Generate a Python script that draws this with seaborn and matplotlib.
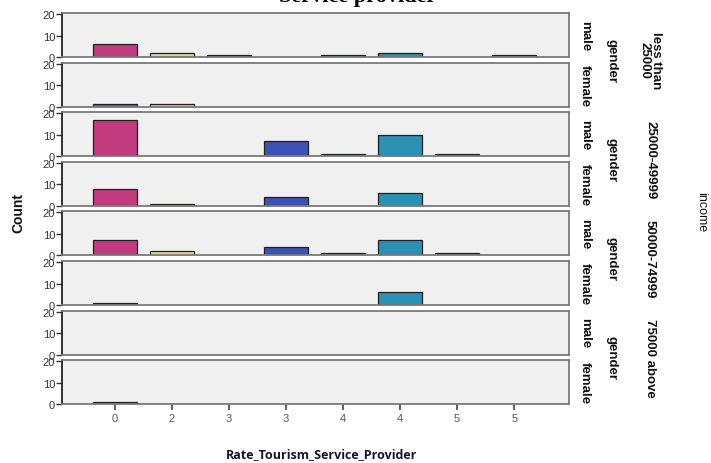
import pandas as pd
import numpy as np
import matplotlib
matplotlib.use("Agg")
import matplotlib.pyplot as plt
import seaborn as sns

sns.set_theme(style="white")
plt.rcParams['font.family'] = ['Liberation Sans', 'DejaVu Sans']

# categories on the x axis (the original labels repeat, so keep a unique key)
cat_keys = ["c0", "c1", "c2", "c3", "c4", "c5", "c6", "c7"]
cat_labels = ["0", "2", "3", "3", "4", "4", "5", "5"]
cat_colors = ["#C23B7E", "#DCD890", "#3C3C3C", "#3A52B4",
              "#2E8C7C", "#2A90B4", "#8C7C9C", "#A8A472"]

income_levels = ["less than\n25000", "25000-49999", "50000-74999", "75000 above"]
genders = ["male", "female"]

# counts per panel (income x gender), one value per category
less25_male = [6, 2, 1, 0, 1, 2, 0, 1]
less25_female = [1, 1, 0, 0, 0, 0, 0, 0]
mid25_male = [17, 0, 0, 7, 1, 10, 1, 0]
mid25_female = [8, 1, 0, 4, 0, 6, 0, 0]
mid50_male = [7, 2, 0, 4, 1, 7, 1, 0]
mid50_female = [1, 0, 0, 0, 0, 6, 0, 0]
above75_male = [0, 0, 0, 0, 0, 0, 0, 0]
above75_female = [1, 0, 0, 0, 0, 0, 0, 0]

panels = [less25_male, less25_female, mid25_male, mid25_female,
          mid50_male, mid50_female, above75_male, above75_female]

rows = []
for i, counts in enumerate(panels):
    for k, c in zip(cat_keys, counts):
        if c > 0:
            rows.append({"panel": i, "cat": k, "count": c})
df = pd.DataFrame(rows)

W, H = 711, 464
fig = plt.figure(figsize=(W / 100, H / 100), dpi=100)

left, right = 62, 569
row_tops = [14 + i * 49.6 for i in range(8)]
row_h = 44
palette = dict(zip(cat_keys, cat_colors))

axes = []
for i in range(8):
    top = row_tops[i]
    ax = fig.add_axes([left / W, 1 - (top + row_h) / H, (right - left) / W, row_h / H])
    sub = df[df["panel"] == i]
    if len(sub):
        sns.barplot(data=sub, x="cat", y="count", hue="cat", order=cat_keys,
                    hue_order=cat_keys, palette=palette, legend=False,
                    width=0.77, edgecolor="#202020", linewidth=0.9,
                    saturation=1, ax=ax)
    ax.set_xlim(-0.92, 7.96)
    ax.set_ylim(0, 20.5)
    ax.set_facecolor("#F0F0F0")
    ax.set_yticks([0, 10, 20])
    ax.set_yticklabels(["0", "10", "20"])
    ax.tick_params(axis="y", left=True, length=4, width=1, color="#333333",
                   labelsize=8, labelcolor="#333333", pad=1)
    for s in ["top", "right", "bottom"]:
        ax.spines[s].set_color("#7A7A7A")
        ax.spines[s].set_linewidth(1.3)
    ax.spines["left"].set_color("#222222")
    ax.spines["left"].set_linewidth(1.3)
    ax.set_xlabel("")
    ax.set_ylabel("")
    ax.set_xticks(range(8))
    if i < 7:
        ax.tick_params(axis="x", bottom=False, labelbottom=False)
    else:
        ax.set_xticklabels(cat_labels)
        ax.tick_params(axis="x", bottom=True, length=4, width=1.2, color="#444444",
                       labelsize=8, labelcolor="#555555", pad=2)
    axes.append(ax)

    # gender label of this row
    cy = 1 - (top + row_h / 2) / H
    fig.text(585 / W, cy, genders[i % 2], rotation=-90, ha="center", va="center",
             fontsize=9.5, fontweight="bold", color="#111111")

for j, lab in enumerate(income_levels):
    cy = 1 - (row_tops[2 * j] + (row_tops[2 * j + 1] + row_h - row_tops[2 * j]) / 2) / H
    fig.text(612 / W, cy, "gender", rotation=-90, ha="center", va="center",
             fontsize=9.5, fontweight="bold", color="#111111")
    fig.text(650 / W, cy, lab, rotation=-90, ha="center", va="center",
             fontsize=9.5, fontweight="bold", color="#111111", linespacing=0.95)

fig.text(701 / W, 1 - 212 / H, "income", rotation=-90, ha="center", va="center",
         fontsize=9, color="#111111")
fig.text(18 / W, 1 - 213 / H, "Count", rotation=90, ha="center", va="center",
         fontsize=10, fontweight="bold", color="#111111")
fig.text(322 / W, 1 - 455 / H, "Rate_Tourism_Service_Provider", ha="center",
         va="center", fontsize=9, fontweight="bold", color="#151530",
         family=["Open Sans", "DejaVu Sans"])
# title, cut off at the top edge as in the original image
fig.text(358 / W, 1 - 2 / H, "Service provider", ha="center", va="baseline",
         fontsize=16, fontweight="bold", color="#000000",
         family=["Liberation Serif", "DejaVu Serif"])

fig.savefig("out.png", dpi=100)
